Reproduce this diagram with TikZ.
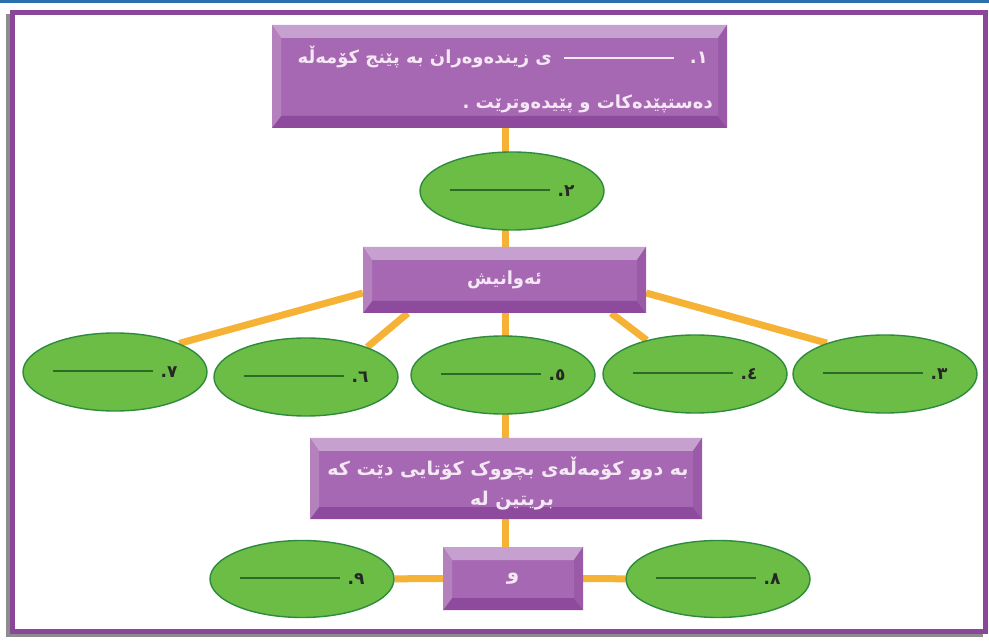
\documentclass[tikz,border=0pt]{standalone}
\usepackage{fontspec}
\TeXXeTstate=1
\newfontfamily\arabicfont[Script=Arabic]{DejaVu Sans}
\usetikzlibrary{shapes.geometric,backgrounds,calc}
\definecolor{conorange}{HTML}{F6B235}
\definecolor{ellgreen}{HTML}{6CBD45}
\definecolor{elledge}{HTML}{2E8B3E}
\definecolor{boxpurple}{HTML}{A668B2}
\definecolor{bevtopc}{HTML}{C6A0CE}
\definecolor{bevbotc}{HTML}{8E4B9E}
\definecolor{bevleftc}{HTML}{B481BD}
\definecolor{bevrightc}{HTML}{9A5AA8}
\definecolor{boxtext}{HTML}{F5E8F5}
\definecolor{framepurple}{HTML}{8A4699}
\definecolor{frameblue}{HTML}{2B70AA}
\definecolor{rulegreen}{HTML}{2E6A26}
\newcommand\ppbb{path picture bounding box}
\tikzset{
  con/.style={draw=conorange, line width=7pt},
  ell/.style={ellipse, fill=ellgreen, draw=elledge, line width=1.4pt,
    minimum width=184pt, minimum height=78pt, inner sep=0pt,
    font=\arabicfont\bfseries\fontsize{17}{20}\selectfont, text=black!85},
  pbox/.style={rectangle, fill=boxpurple, inner sep=0pt, text=boxtext,
    font=\arabicfont\bfseries\fontsize{18}{22}\selectfont,
    path picture={
      \fill[bevtopc] (\ppbb.north west) -- (\ppbb.north east) -- ([shift={(-9pt,-13pt)}]\ppbb.north east) -- ([shift={(9pt,-13pt)}]\ppbb.north west) -- cycle;
      \fill[bevbotc] (\ppbb.south west) -- (\ppbb.south east) -- ([shift={(-9pt,12pt)}]\ppbb.south east) -- ([shift={(9pt,12pt)}]\ppbb.south west) -- cycle;
      \fill[bevleftc] (\ppbb.north west) -- ([shift={(9pt,-13pt)}]\ppbb.north west) -- ([shift={(9pt,12pt)}]\ppbb.south west) -- (\ppbb.south west) -- cycle;
      \fill[bevrightc] (\ppbb.north east) -- ([shift={(-9pt,-13pt)}]\ppbb.north east) -- ([shift={(-9pt,12pt)}]\ppbb.south east) -- (\ppbb.south east) -- cycle;
    }},
  ptext/.style={inner sep=0pt, text=boxtext, font=\arabicfont\bfseries\fontsize{18}{22}\selectfont},
}
\newcommand\blank{\textcolor{rulegreen}{\rule[5pt]{100pt}{2.5pt}}}
\begin{document}
\begin{tikzpicture}[x=1pt,y=-1pt]
\useasboundingbox (0,0) rectangle (989,644);
\coordinate (ax) at (505,0);
% boxes
\node[pbox, minimum width=455pt, minimum height=103pt] (b1) at (499.5,76.5) {};
\node[ptext, anchor=east] (t1a) at (708,57) {\beginR ١\kern0pt.\hspace{16pt}\rule[5pt]{110pt}{1.6pt}\hspace{12pt}ی زیندەوەران بە پێنج کۆمەڵە\endR};
\node[ptext, anchor=east] (t1b) at (713,104) {\beginR دەستپێدەکات و پێیدەوترێت .\endR};
\node[ell] (e2) at (512,191) {\blank\hspace{8pt}.\kern0pt٢};
\node[pbox, minimum width=283pt, minimum height=66pt] (b2) at (504.5,280) {\beginR ئەوانیش\endR};
\node[ell] (e7) at (115,372) {\blank\hspace{8pt}.\kern0pt٧};
\node[ell] (e6) at (306,377) {\blank\hspace{8pt}.\kern0pt٦};
\node[ell] (e5) at (503,375) {\blank\hspace{8pt}.\kern0pt٥};
\node[ell] (e4) at (695,374) {\blank\hspace{8pt}.\kern0pt٤};
\node[ell] (e3) at (885,374) {\blank\hspace{8pt}.\kern0pt٣};
\node[pbox, minimum width=392pt, minimum height=81pt] (b3) at (506,478.5) {};
\node[ptext, font=\arabicfont\bfseries\fontsize{19}{22}\selectfont] (t3a) at (508,469) {\beginR بە دوو کۆمەڵەی بچووک کۆتایی دێت کە\endR};
\node[ptext, font=\arabicfont\bfseries\fontsize{19}{22}\selectfont] (t3b) at (512,501) {\beginR بریتین لە\endR};
\node[pbox, minimum width=140pt, minimum height=63pt, font=\arabicfont\bfseries\fontsize{20}{22}\selectfont] (b4) at (513,578.5) {و};
\node[ell, minimum height=77pt] (e9) at (302,579) {\blank\hspace{8pt}.\kern0pt٩};
\node[ell, minimum height=77pt] (e8) at (718,579) {\blank\hspace{8pt}.\kern0pt٨};
% frame and connectors
\begin{pgfonlayer}{background}
\fill[white] (0,0) rectangle (989,644);
\fill[frameblue] (0,0) rectangle (989,3.5);
\draw[black!45, line width=4pt] (8,16.5) rectangle (981,635);
\fill[white] (12,12.5) rectangle (985,631);
\draw[framepurple, line width=5pt] (12,12.5) rectangle (985,631);
\draw[con] (b1.south -| ax) -- (b2.north -| ax);
\draw[con] (b2.south -| ax) -- (b3.north -| ax);
\draw[con] (b3.south -| ax) -- (b4.north -| ax);
\draw[con] ([yshift=-13pt]b2.west) -- (e7.24);
\draw[con] ([yshift=-13pt]b2.east) -- (e3.152);
\draw[con] ([xshift=45pt]b2.south west) -- (e6.26);
\draw[con] ([xshift=-35pt]b2.south east) -- (e4.145);
\draw[con] (e9) -- (b4) -- (e8);
\end{pgfonlayer}
\end{tikzpicture}
\end{document}
